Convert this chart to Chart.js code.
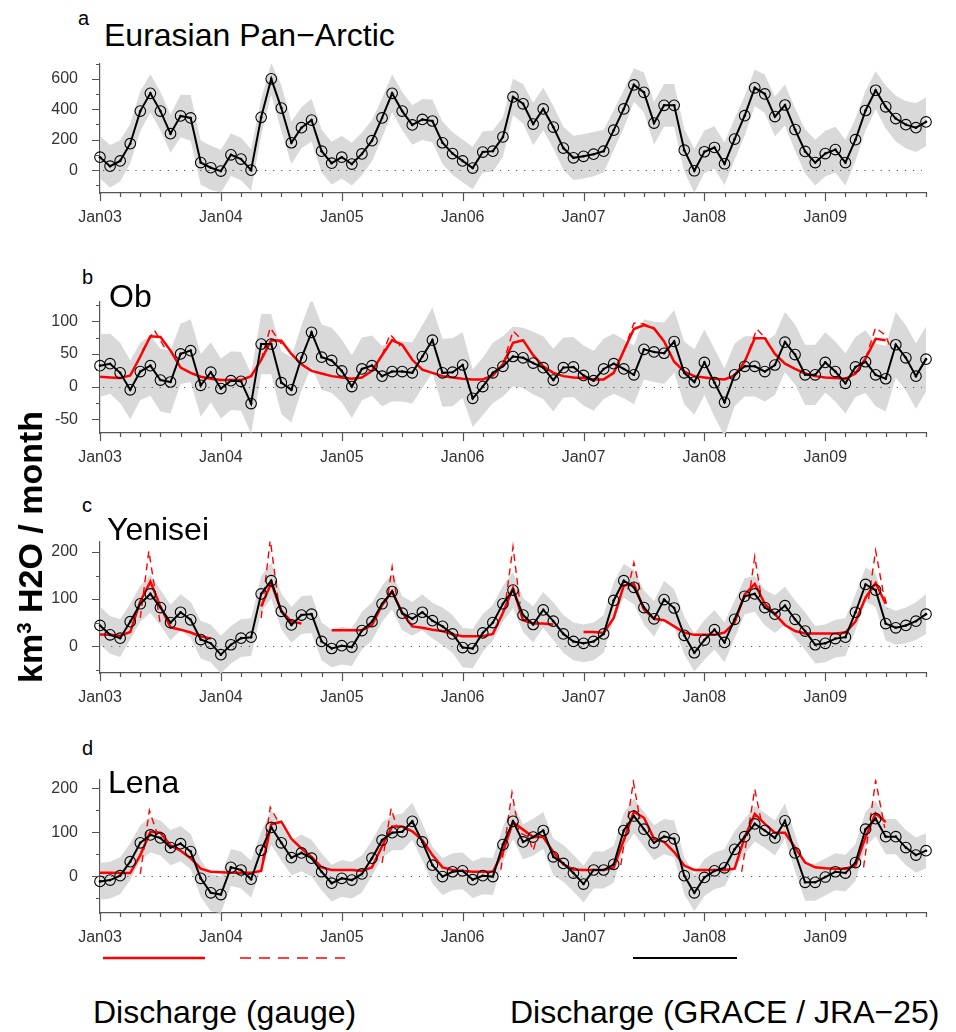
<!DOCTYPE html>
<html>
<head>
<meta charset="utf-8">
<script src="https://cdn.jsdelivr.net/npm/chart.js@4.4.1/dist/chart.umd.min.js"></script>
<style>
  body { margin: 0; background: #fff; width: 956px; height: 1032px; position: relative; overflow: hidden;
         font-family: "Liberation Sans", Arial, sans-serif; color: #000; }
  canvas { position: absolute; left: 0; }
  .txt { position: absolute; line-height: 1; white-space: nowrap; }
  .letter { font-size: 20px; }
  .title { font-size: 32px; }
  .ylab { position: absolute; left: 30px; top: 547px; transform: translate(-50%, -50%) rotate(-90deg);
          font-size: 34px; font-weight: bold; white-space: nowrap; line-height: 1; }
  .ylab sup { font-size: 60%; vertical-align: 0.55em; }
  .leg { position: absolute; top: 996px; font-size: 32px; line-height: 1; white-space: nowrap; }
</style>
</head>
<body>

<div class="txt letter" style="left:78px; top:8px;">a</div>
<div class="txt title" style="left:104px; top:19px;">Eurasian Pan−Arctic</div>
<div class="txt letter" style="left:82px; top:267px;">b</div>
<div class="txt letter" style="left:82px; top:495px;">c</div>
<div class="txt letter" style="left:82px; top:738px;">d</div>

<canvas id="cA" width="956" height="185" style="top:40px"></canvas>
<canvas id="cB" width="956" height="187" style="top:278px"></canvas>
<canvas id="cC" width="956" height="187" style="top:518px"></canvas>
<canvas id="cD" width="956" height="189" style="top:756px"></canvas>

<div class="txt title" style="left:109px; top:280px;">Ob</div>
<div class="txt title" style="left:107px; top:513px;">Yenisei</div>
<div class="txt title" style="left:108px; top:766px;">Lena</div>

<div class="ylab">km<sup>3</sup> H2O / month</div>

<svg style="position:absolute; left:0; top:940px;" width="956" height="40">
  <line x1="103" y1="18" x2="205" y2="18" stroke="#ff0000" stroke-width="2.5"/>
  <line x1="240" y1="18" x2="345" y2="18" stroke="#ff0000" stroke-width="1.5" stroke-dasharray="11,8"/>
  <line x1="633" y1="18" x2="737" y2="18" stroke="#000" stroke-width="2"/>
</svg>
<div class="leg" style="left:93px;">Discharge (gauge)</div>
<div class="leg" style="left:510px;">Discharge (GRACE / JRA−25)</div>

<script>
// month index 0 = Jan 2003 ... 82 = Nov 2009
const nMonths = 83;
const yearLabels = ['Jan03', 'Jan04', 'Jan05', 'Jan06', 'Jan07', 'Jan08', 'Jan09'];

// --- a: Eurasian Pan-Arctic ---
const panArctic = [85, 26, 61, 174, 388, 505, 388, 240, 356, 343,
    50, 16, -6, 101, 73, 0, 347, 600, 408, 180,
    279, 329, 125, 46, 85, 40, 107, 194, 343, 505,
    388, 297, 333, 323, 180, 109, 61, 14, 119, 125,
    218, 481, 436, 303, 402, 283, 145, 81, 91, 105,
    125, 263, 402, 560, 511, 309, 426, 426, 131, -4,
    121, 149, 42, 204, 358, 541, 501, 352, 428, 267,
    123, 50, 109, 135, 50, 200, 392, 525, 416, 339,
    299, 279, 317];
const panArcticErr = [140, 140, 135, 130, 130, 125, 125, 125, 140, 150,
    145, 145, 140, 140, 140, 135, 120, 105, 150, 140,
    135, 140, 140, 140, 140, 140, 140, 135, 130, 125,
    125, 130, 135, 140, 140, 140, 140, 140, 135, 135,
    130, 120, 130, 140, 140, 140, 140, 145, 145, 145,
    140, 130, 125, 110, 130, 140, 140, 140, 140, 145,
    140, 140, 140, 135, 130, 120, 125, 130, 135, 140,
    145, 150, 150, 150, 150, 140, 130, 125, 140, 150,
    155, 160, 160];

// --- b: Ob ---
const ob = [32, 35, 21, -5, 23, 32, 10, 7, 50, 55,
    2, 22, -3, 9, 8, -26, 65, 65, 6, -5,
    44, 83, 45, 40, 24, 0, 27, 32, 16, 23,
    23, 21, 46, 71, 21, 22, 33, -18, 0, 21,
    31, 46, 44, 36, 29, 10, 29, 30, 17, 9,
    27, 35, 27, 18, 57, 53, 51, 69, 21, 7,
    37, 6, -24, 18, 31, 31, 23, 33, 68, 49,
    18, 18, 37, 23, 5, 30, 38, 18, 12, 64,
    44, 16, 42];
const obErr = [48, 46, 46, 45, 44, 46, 48, 48, 46, 48,
    48, 46, 46, 45, 45, 46, 46, 46, 48, 50,
    50, 52, 50, 50, 48, 48, 48, 46, 46, 46,
    46, 47, 48, 50, 52, 52, 50, 44, 44, 46,
    46, 46, 46, 48, 48, 48, 46, 46, 46, 46,
    46, 46, 45, 45, 46, 46, 47, 48, 48, 50,
    50, 52, 52, 48, 46, 46, 46, 46, 46, 46,
    46, 46, 46, 46, 46, 46, 48, 48, 50, 50,
    50, 50, 50];
const obGauge = [15, 14, 13, 17, 46, 77, 76, 55, 29, 21,
    15, 12, 10, 10, 10, 16, 41, 71, 70, 50,
    34, 24, 20, 16, 14, 12, 14, 24, 48, 71,
    64, 41, 26, 21, 16, 14, 12, 11, 11, 17,
    34, 67, 71, 48, 31, 21, 16, 14, 13, 11,
    11, 21, 55, 88, 94, 89, 69, 38, 23, 16,
    14, 12, 11, 17, 38, 74, 74, 50, 35, 27,
    20, 16, 14, 13, 12, 20, 43, 73, 71, null,
    null, null, null];
const obDailyX = [4.2, 5.4, 6.6, null, 16, 16.9, 18, null, 28, 28.8, 29.8, null, 40, 41, 42, null,
    52, 53, 54, 55, null, 64, 65.2, 66.2, null, 76, 77, 78, 78.4];
const obDailyY = [55, 86, 55, null, 41, 90, 65, null, 48, 80, 62, null, 34, 85, 70, null,
    55, 97, 96, 88, null, 38, 88, 72, null, 43, 90, 78, 62];

// --- c: Yenisei ---
const yenisei = [44, 24, 17, 52, 90, 111, 82, 50, 72, 56,
    14, 6, -18, 3, 17, 19, 111, 139, 74, 45,
    66, 68, 10, -5, 1, -2, 33, 52, 90, 116,
    70, 58, 72, 54, 42, 26, -3, -5, 28, 50,
    90, 119, 66, 46, 77, 53, 26, 10, 6, 10,
    26, 97, 139, 125, 82, 58, 99, 81, 23, -14,
    13, 35, 8, 57, 106, 111, 82, 68, 86, 57,
    32, 3, 6, 16, 19, 72, 131, 119, 48, 39,
    44, 53, 68];
const yeniseiErr = [40, 40, 40, 38, 38, 40, 38, 38, 38, 38,
    40, 40, 40, 40, 40, 40, 38, 38, 38, 38,
    40, 40, 40, 40, 40, 40, 40, 40, 38, 38,
    36, 36, 38, 38, 40, 40, 42, 42, 40, 38,
    38, 38, 36, 38, 38, 40, 40, 40, 40, 40,
    40, 38, 36, 36, 36, 38, 40, 40, 40, 40,
    42, 42, 42, 40, 38, 38, 38, 40, 40, 40,
    40, 40, 40, 40, 40, 38, 36, 36, 36, 36,
    38, 40, 42];
const yeniseiGauge = [25, 24, 22, 30, 95, 137, 84, 40, 35, 29,
    21, 16, null, null, null, null, 84, 134, 75, 52,
    48, null, null, 34, 34, 34, 34, 45, 87, 116,
    71, 42, 39, 35, 32, 25, 21, 21, 21, 26,
    71, 123, 55, 48, 48, 46, null, null, 30, 30,
    28, 60, 129, 132, 78, 58, 55, 42, 29, 24,
    24, 24, 29, 50, 110, 132, 90, 68, 45, 32,
    27, 27, 27, 27, 29, 52, 103, 134, 90, null,
    null, null, null];
const yeniseiDailyX = [4.0, 4.85, 6.0, null, 16.0, 16.9, 17.8, null, 28.6, 29, 29.4, null,
    40.3, 41, 41.7, null, 52.4, 53, 53.6, null, 64.4, 65, 65.6, null, 76.3, 77, 77.7, 78.2];
const yeniseiDailyY = [60, 202, 45, null, 60, 226, 80, null, 110, 168, 110, null,
    100, 211, 90, null, 120, 177, 120, null, 100, 190, 110, null, 100, 203, 120, 80];

// --- d: Lena ---
const lena = [-12, -9, 1, 33, 76, 94, 87, 65, 74, 56,
    -5, -38, -42, 20, 14, -7, 59, 111, 76, 42,
    53, 41, 10, -16, -5, -9, 5, 41, 82, 99,
    101, 125, 78, 25, -1, 10, 12, -8, 1, -1,
    72, 125, 78, 89, 104, 44, 29, 7, -18, 14,
    14, 27, 104, 137, 107, 76, 90, 85, 1, -38,
    -3, 12, 19, 61, 90, 119, 104, 87, 126, 53,
    -14, -14, -2, 10, 7, 31, 107, 131, 90, 90,
    65, 48, 58];
const lenaErr = [42, 42, 42, 42, 40, 40, 40, 40, 40, 40,
    42, 42, 42, 42, 42, 42, 42, 40, 40, 40,
    42, 42, 42, 42, 42, 42, 42, 40, 40, 40,
    42, 42, 42, 42, 42, 42, 42, 42, 42, 42,
    40, 40, 40, 42, 42, 42, 42, 42, 42, 42,
    42, 42, 40, 40, 40, 40, 40, 42, 42, 42,
    42, 42, 42, 42, 40, 40, 40, 40, 40, 42,
    42, 42, 42, 42, 42, 42, 40, 40, 40, 40,
    40, 40, 40];
const lenaGauge = [8, 8, 7, 7, 48, 101, 99, 70, 58, 41,
    17, 10, 9, 8, 8, 8, 12, 118, 124, 85,
    63, 44, 20, 14, 14, 14, 12, 20, 68, 113,
    113, 102, 82, 48, 20, 14, 12, 10, 10, 10,
    55, 123, 106, 89, 89, 55, 27, 15, 14, 14,
    14, 20, 82, 147, 133, 85, 78, 55, 24, 14,
    14, 14, 14, 17, 89, 142, 119, 99, 99, 65,
    31, 20, 18, 17, 17, 24, 89, 143, 123, null,
    null, null, null];
const lenaDailyX = [4.0, 4.9, 5.7, null, 16.0, 16.9, 17.8, null, 28, 28.9, 29.5, null,
    39.8, 40.9, 41.6, 42.5, 43.0, 43.4, null, 51.7, 52.95, 53.6, null, 63.7, 65, 65.6, null,
    75.8, 77, 77.9];
const lenaDailyY = [5, 150, 95, null, 10, 157, 120, null, 30, 154, 110, null,
    15, 190, 100, 90, 58, 90, null, 25, 215, 130, null, 10, 198, 130, null,
    20, 218, 110];

Chart.defaults.font.family = '"Liberation Sans", Arial, sans-serif';

function series(vals) {
    return vals.map((v, i) => ({ x: i, y: v }));
}
function dailySeries(xs, ys) {
    const out = [];
    let last = 0;
    xs.forEach((x, i) => {
        if (x === null) { out.push({ x: last + 0.01, y: null }); }
        else { out.push({ x: x, y: ys[i] }); last = x; }
    });
    return out;
}

// tick marks drawn outward, long ones for labelled ticks
const tickMarks = {
    id: 'tickMarks',
    afterDraw(chart) {
        const { ctx, chartArea: ca, scales: { x, y } } = chart;
        ctx.save();
        ctx.strokeStyle = '#555';
        ctx.lineWidth = 1.2;
        ctx.beginPath();
        x.ticks.forEach(t => {
            const px = Math.round(x.getPixelForValue(t.value)) + 0.5;
            const len = t.value % 12 === 0 ? 8 : 4;
            ctx.moveTo(px, ca.bottom);
            ctx.lineTo(px, ca.bottom + len);
        });
        y.ticks.forEach(t => {
            const py = Math.round(y.getPixelForValue(t.value)) + 0.5;
            const len = t.label ? 8 : 4;
            ctx.moveTo(ca.left, py);
            ctx.lineTo(ca.left - len, py);
        });
        ctx.stroke();
        ctx.restore();
    }
};

// dotted zero line, drawn right after the grey band
const zeroLine = {
    id: 'zeroLine',
    afterDatasetDraw(chart, args) {
        if (args.index !== 1) return;
        const { ctx, chartArea: ca, scales: { x, y } } = chart;
        const py = Math.round(y.getPixelForValue(0)) + 0.5;
        ctx.save();
        ctx.strokeStyle = '#555';
        ctx.lineWidth = 1.2;
        ctx.setLineDash([1.2, 6.9]);
        ctx.beginPath();
        ctx.moveTo(ca.left + 3, py);
        ctx.lineTo(x.getPixelForValue(81.6), py);
        ctx.stroke();
        ctx.restore();
    }
};

function makePanel(id, vals, err, gauge, dailyX, dailyY, yMin, yMax, yStep, yLabels) {
    const lower = vals.map((v, i) => ({ x: i, y: v - err[i] }));
    const upper = vals.map((v, i) => ({ x: i, y: v + err[i] }));
    const datasets = [
        { data: lower, borderWidth: 0, pointRadius: 0, fill: false, order: 10 },
        { data: upper, borderWidth: 0, pointRadius: 0, fill: '-1', backgroundColor: '#d9d9d9', order: 9 },
        { data: dailyX ? dailySeries(dailyX, dailyY) : [], borderColor: '#ff0000', borderWidth: 1.4,
          borderDash: [7, 5], pointRadius: 0, fill: false, spanGaps: false, order: 4 },
        { data: gauge ? series(gauge) : [], borderColor: '#ff0000', borderWidth: 2.5,
          pointRadius: 0, fill: false, spanGaps: false, order: 3 },
        { data: series(vals), borderColor: '#000', borderWidth: 2, pointRadius: 5.3,
          pointBorderWidth: 1.1, pointBorderColor: '#000', pointBackgroundColor: 'rgba(0,0,0,0)',
          fill: false, clip: false, order: 2 },
        { data: series(vals), showLine: false, pointRadius: 1.3, pointBorderWidth: 0,
          pointBackgroundColor: '#000', clip: false, order: 1 }
    ];
    new Chart(document.getElementById(id), {
        type: 'line',
        data: { datasets: datasets },
        options: {
            responsive: false,
            animation: false,
            layout: { padding: { top: 10, right: 30, left: 0, bottom: 0 } },
            plugins: {
                legend: { display: false },
                tooltip: { enabled: false },
                filler: { drawTime: 'beforeDatasetDraw' }
            },
            scales: {
                x: {
                    type: 'linear',
                    min: 0,
                    max: nMonths - 1,
                    afterFit: s => { s.height = 32; },
                    grid: { display: false },
                    border: { display: true, color: '#555', width: 1.2 },
                    ticks: {
                        stepSize: 2,
                        autoSkip: false,
                        maxRotation: 0,
                        padding: 7,
                        color: '#333',
                        font: { size: 16 },
                        callback: v => (v % 12 === 0 ? yearLabels[v / 12] : '')
                    }
                },
                y: {
                    type: 'linear',
                    min: yMin,
                    max: yMax,
                    afterFit: s => { s.width = 100; },
                    grid: { display: false },
                    border: { display: true, color: '#555', width: 1.2 },
                    ticks: {
                        stepSize: yStep,
                        autoSkip: false,
                        includeBounds: false,
                        padding: 14,
                        color: '#333',
                        font: { size: 16 },
                        callback: v => (yLabels.includes(v) ? String(v) : '')
                    }
                }
            }
        },
        plugins: [tickMarks, zeroLine]
    });
}

makePanel('cA', panArctic, panArcticErr, null, null, null, -150, 700, 100, [0, 200, 400, 600]);
makePanel('cB', ob, obErr, obGauge, obDailyX, obDailyY, -71, 130, 25, [-50, 0, 50, 100]);
makePanel('cC', yenisei, yeniseiErr, yeniseiGauge, yeniseiDailyX, yeniseiDailyY, -57, 222, 50, [0, 100, 200]);
makePanel('cD', lena, lenaErr, lenaGauge, lenaDailyX, lenaDailyY, -84, 220, 50, [0, 100, 200]);
</script>
</body>
</html>
